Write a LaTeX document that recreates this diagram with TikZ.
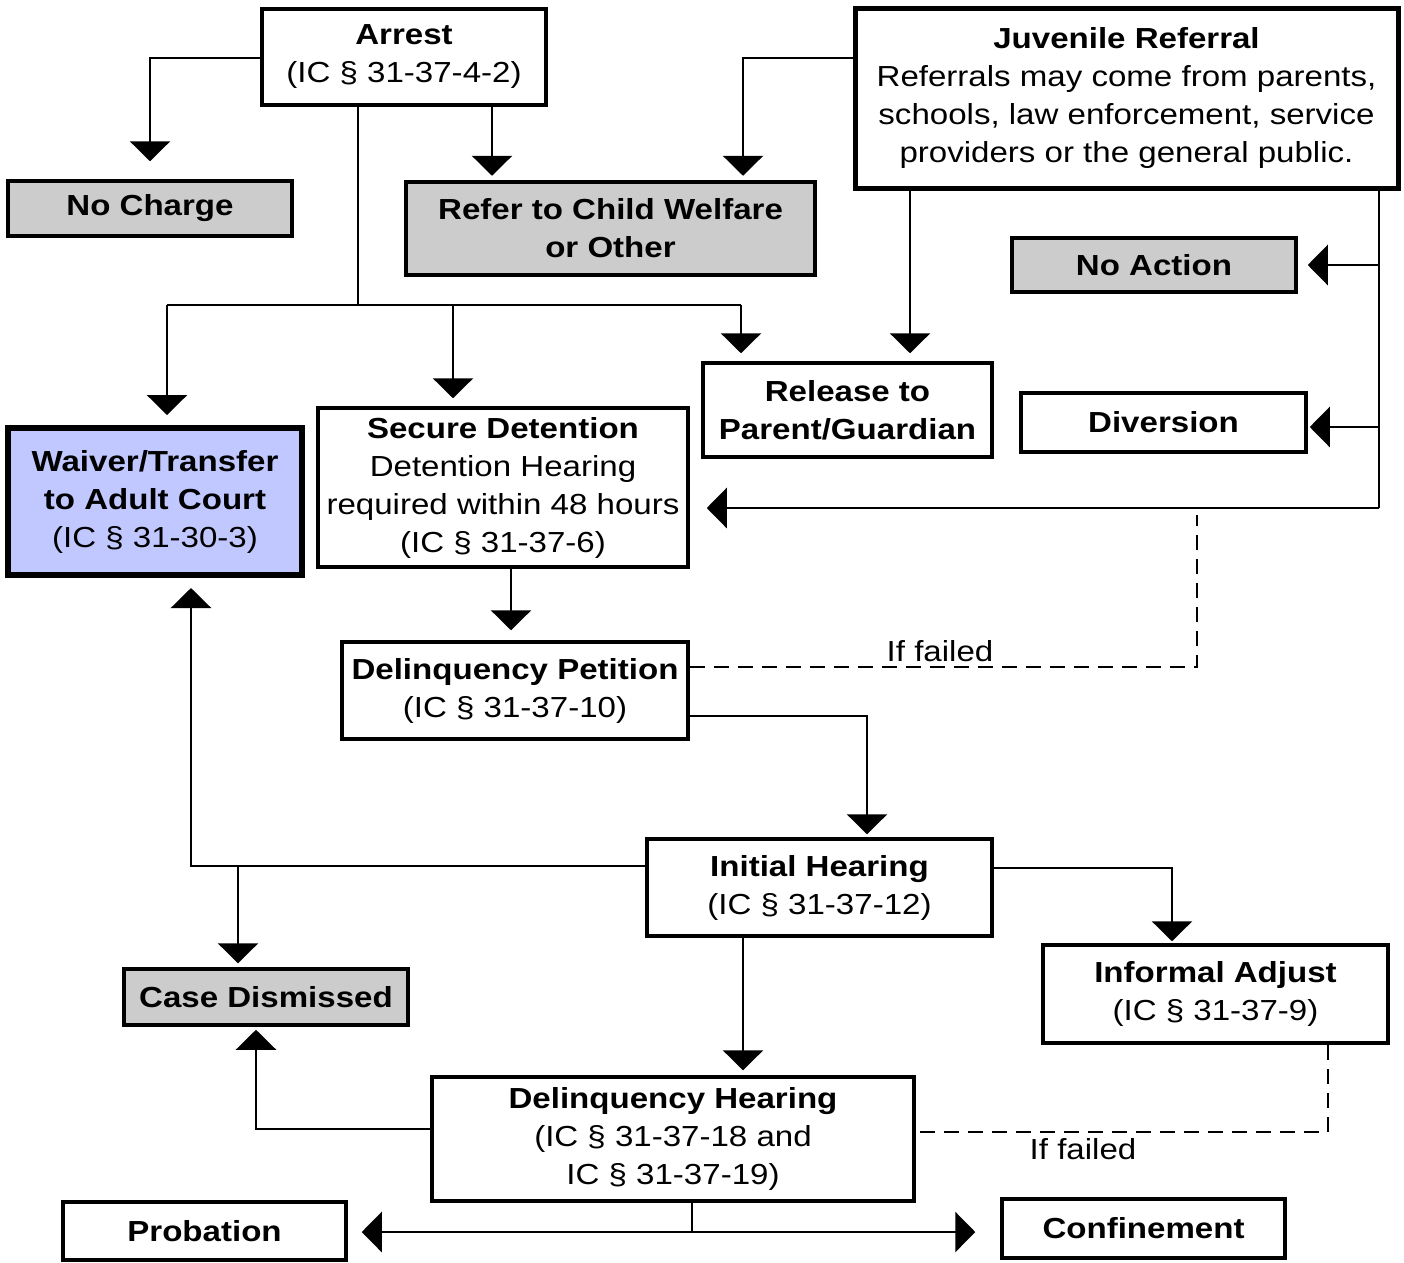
\documentclass[tikz,border=0pt]{standalone}
\usepackage{fontspec}
\setmainfont{Liberation Sans}[FakeStretch=1.14]
\usetikzlibrary{arrows.meta}
\definecolor{boxgray}{RGB}{204,204,204}
\definecolor{boxblue}{RGB}{192,200,255}
\begin{document}
\begin{tikzpicture}[x=1pt,y=-1pt,
  base/.style={draw=black, line width=3.5pt, fill=white, inner sep=0pt, align=center,
    font=\fontsize{29}{38}\selectfont},
  graybox/.style={base, fill=boxgray},
  line/.style={draw=black, line width=2.8pt},
  arr/.style={line, -{Triangle[width=40pt,length=20pt]}},
  dline/.style={line, dash pattern=on 15pt off 9pt},
  lbl/.style={inner sep=0pt, font=\fontsize{29}{38}\selectfont}
]
\useasboundingbox (0,0) rectangle (1404,1262);

% nodes
\node[base, minimum width=284pt, minimum height=96pt] (arrest) at (404,57)
  {\textbf{Arrest}\\(IC § 31-37-4-2)};
\node[base, line width=5pt, minimum width=543pt, minimum height=180pt] (juv) at (1126.5,98)
  {\textbf{Juvenile Referral}\\Referrals may come from parents,\\schools, law enforcement, service\\providers or the general public.};
\node[graybox, minimum width=284pt, minimum height=55pt] (nocharge) at (150,208.5)
  {\textbf{No Charge}};
\node[graybox, line width=4.5pt, minimum width=409pt, minimum height=93pt] (refer) at (610.5,228.5)
  {\textbf{Refer to Child Welfare}\\\textbf{or Other}};
\node[graybox, minimum width=284pt, minimum height=54pt] (noaction) at (1154,265)
  {\textbf{No Action}};
\node[base, minimum width=289pt, minimum height=94pt] (release) at (847.5,410)
  {\textbf{Release to}\\\textbf{Parent/Guardian}};
\node[base, minimum width=285pt, minimum height=59pt] (diversion) at (1163.5,422.5)
  {\textbf{Diversion}};
\node[base, line width=6pt, fill=boxblue, minimum width=294pt, minimum height=147pt] (waiver) at (155,501.5)
  {\textbf{Waiver/Transfer}\\\textbf{to Adult Court}\\(IC § 31-30-3)};
\node[base, minimum width=370pt, minimum height=159pt] (secure) at (503,487.5)
  {\textbf{Secure Detention}\\Detention Hearing\\required within 48 hours\\(IC § 31-37-6)};
\node[base, minimum width=346pt, minimum height=97pt] (petition) at (515,690.5)
  {\textbf{Delinquency Petition}\\(IC § 31-37-10)};
\node[base, minimum width=345pt, minimum height=97pt] (initial) at (819.5,887.5)
  {\textbf{Initial Hearing}\\(IC § 31-37-12)};
\node[base, minimum width=345pt, minimum height=98pt] (informal) at (1215.5,994)
  {\textbf{Informal Adjust}\\(IC § 31-37-9)};
\node[graybox, minimum width=284pt, minimum height=56pt] (dismissed) at (266,997)
  {\textbf{Case Dismissed}};
\node[base, minimum width=482pt, minimum height=124pt] (dhearing) at (673,1139)
  {\textbf{Delinquency Hearing}\\(IC § 31-37-18 and\\IC § 31-37-19)};
\node[base, minimum width=283pt, minimum height=58pt] (probation) at (204.5,1231)
  {\textbf{Probation}};
\node[base, minimum width=283pt, minimum height=59pt] (confinement) at (1143.5,1228.5)
  {\textbf{Confinement}};

% helper coordinates
\coordinate (ax) at (492,0);
\coordinate (jl) at (743,0);
\coordinate (hub) at (358,305);
\coordinate (hL) at (167,305);
\coordinate (hM) at (453,305);
\coordinate (hR) at (741,305);
\coordinate (jx) at (910,0);
\coordinate (jr) at (1379,508);
\coordinate (fd) at (1197,515);
\coordinate (sx) at (511,0);
\coordinate (px) at (867,0);
\coordinate (wl) at (191,866);
\coordinate (cx) at (238,866);
\coordinate (ix) at (1172,0);
\coordinate (iy) at (743,0);
\coordinate (dx) at (256,0);
\coordinate (fx) at (1328,1132);
\coordinate (dc) at (692,1232);

% Arrest connectors
\draw[arr, shorten >=18pt] ([yshift=-1pt]arrest.west) -| (nocharge.north);
\draw[arr, shorten >=4pt] (arrest.south -| ax) -- (refer.north -| ax);
\draw[line] (arrest.south -| hub) -- (hub);
\draw[line] (hL) -- (hR);
\draw[arr, shorten >=10pt] (hL) -- (hL |- waiver.north);
\draw[arr, shorten >=8pt] (hM) -- (hM |- secure.north);
\draw[arr, shorten >=8pt] (hR) -- (hR |- release.north);

% Juvenile referral connectors
\draw[arr, shorten >=4pt] ([yshift=40pt]juv.west) -| (refer.north -| jl);
\draw[arr, shorten >=8pt] (juv.south -| jx) -- (release.north -| jx);
\draw[line] (juv.south -| jr) -- (jr);
\draw[arr, shorten >=10pt] (noaction.east -| jr) -- (noaction.east);
\draw[arr, shorten >=2pt] ([yshift=-4.5pt]diversion.east -| jr) -- ([yshift=-4.5pt]diversion.east);
\draw[arr, shorten >=17pt] (jr) -- (jr -| secure.east);

% If failed (petition)
\draw[dline] ([yshift=23.5pt]petition.east) -| (fd);
\node[lbl] (fail1) at (940,651) {If failed};

% flow
\draw[arr, shorten >=10pt] (secure.south -| sx) -- (petition.north -| sx);
\draw[arr, shorten >=3pt] ([yshift=-25.5pt]petition.east) -| (initial.north -| px);
\draw[arr, shorten >=10pt] ([yshift=21.5pt]initial.west) -| (waiver.south -| wl);
\draw[arr, shorten >=4pt] (cx) -- (cx |- dismissed.north);
\draw[arr, shorten >=2pt] ([yshift=19.5pt]initial.east) -| (informal.north -| ix);
\draw[arr, shorten >=5pt] (initial.south -| iy) -- (dhearing.north -| iy);
\draw[arr, shorten >=3pt] ([yshift=10pt]dhearing.west) -| (dismissed.south -| dx);

% If failed (informal)
\draw[dline] (informal.south -| fx) -- (fx) -- (fx -| dhearing.east);
\node[lbl] (fail2) at (1083,1149) {If failed};

% outcomes
\draw[line] (dhearing.south -| dc) -- (dc);
\draw[arr, shorten >=14pt] (dc) -- (dc -| probation.east);
\draw[arr, shorten >=25pt] (dc) -- (dc -| confinement.west);
\end{tikzpicture}
\end{document}
